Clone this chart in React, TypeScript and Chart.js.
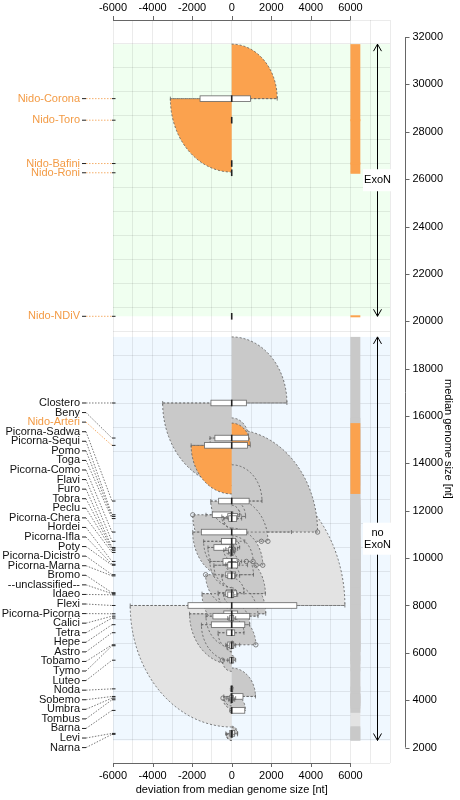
import React, { useEffect, useRef } from "react";
import { Chart, registerables } from "chart.js";

Chart.register(...registerables);

// virus families, top to bottom
const families = [
  "Nido-Corona", "Nido-Toro", "Nido-Bafini", "Nido-Roni", "Nido-NDiV",
  "Clostero", "Beny", "Nido-Arteri", "Picorna-Sadwa", "Picorna-Sequi",
  "Pomo", "Toga", "Picorna-Como", "Flavi", "Furo",
  "Tobra", "Peclu", "Picorna-Chera", "Hordei", "Picorna-Ifla",
  "Poty", "Picorna-Dicistro", "Picorna-Marna", "Bromo", "--unclassified--",
  "Idaeo", "Flexi", "Picorna-Picorna", "Calici", "Tetra",
  "Hepe", "Astro", "Tobamo", "Tymo", "Luteo",
  "Noda", "Sobemo", "Umbra", "Tombus", "Barna",
  "Levi", "Narna",
];
const medians = [
  29400, 28490, 26660, 26270, 20210,
  16550, 15070, 14760, 12410, 11830,
  11760, 11670, 11100, 10710, 10450,
  10390, 10330, 10240, 9860, 9740,
  9700, 9300, 9250, 8540, 8500,
  8450, 8000, 7650, 7550, 7470,
  7190, 6850, 6340, 6300, 5690,
  4480, 4160, 4090, 4020, 3570,
  2600, 2560,
];
// deviations from the median (box = quartiles)
const boxLow = [
  -1600, 0, 0, 0, 0,
  -1050, -850, -1370, -660, -980,
  -200, -150, -1535, -520, -900,
  -100, -150, -60, -440, -150,
  -200, -300, -200, -270, -300,
  -200, -2210, -400, -950, -100,
  -1030, -250, -200, -100, -100,
  -50, -50, -100, -50, -30,
  -100, -50,
];
const boxHigh = [
  950, 0, 0, 0, 0,
  740, 850, 800, 880, 60,
  300, 250, 760, 200, 100,
  100, 50, 60, 270, 190,
  300, 200, 150, 170, 250,
  100, 3290, 300, 910, 100,
  660, 150, 100, 100, 100,
  50, 570, 80, 50, 660,
  150, 50,
];
const whiskerLow = [
  -3100, 0, 0, 0, 0,
  -3490, -1100, -2050, -1060, -1300,
  -500, -400, -1970, -1420, -1200,
  -300, -400, -150, -1100, -300,
  -900, -900, -500, -690, -1500,
  -400, -5130, -2130, -1300, -200,
  -1530, -690, -300, -250, -200,
  -100, -400, -250, -150, -100,
  -300, -260,
];
const whiskerHigh = [
  2300, 0, 0, 0, 0,
  2790, 850, 940, 1530, 400,
  700, 500, 3020, 660, 400,
  300, 200, 150, 500, 400,
  800, 1100, 400, 620, 1700,
  300, 5720, 1720, 1330, 200,
  910, 620, 400, 200, 200,
  100, 1200, 200, 150, 700,
  300, 290,
];
const outliers: number[][] = [
  [], [], [], [], [],
  [], [], [], [], [-1970],
  [], [], [4340], [1500, 1830], [],
  [], [], [], [740, 1080], [],
  [1230, 1570], [-1320], [], [], [],
  [], [], [], [], [],
  [], [], [1220], [], [-470],
  [], [], [-440], [], [],
  [], [],
];
// colour class of each family
const kinds = [
  "exon", "exon", "exon", "exon", "exon",
  "plain", "plain", "exon", "plain", "plain",
  "plain", "plain", "plain", "plain", "plain",
  "plain", "plain", "plain", "plain", "plain",
  "plain", "plain", "plain", "plain", "plain",
  "plain", "light", "plain", "plain", "plain",
  "plain", "plain", "plain", "plain", "plain",
  "plain", "plain", "plain", "plain", "plain",
  "plain", "plain",
];
// section (0 = ExoN, 1 = no ExoN)
const sections = [
  0, 0, 0, 0, 0,
  1, 1, 1, 1, 1, 1, 1, 1, 1, 1, 1, 1, 1, 1, 1, 1, 1, 1, 1, 1,
  1, 1, 1, 1, 1, 1, 1, 1, 1, 1, 1, 1, 1, 1, 1, 1, 1,
];
const sectionLabels = [["ExoN"], ["no", "ExoN"]];
const sectionColors = ["#F0FFF0", "#F0F8FF"];

const xTicks = [-6000, -4000, -2000, 0, 2000, 4000, 6000];
const yTicks = [
  2000, 4000, 6000, 8000, 10000, 12000, 14000, 16000,
  18000, 20000, 22000, 24000, 26000, 28000, 30000, 32000,
];

const kindFill: Record<string, string> = {
  exon: "#FBA24E",
  plain: "#C9C9C9",
  light: "#E3E3E3",
};
const kindRank: Record<string, number> = { light: 0, plain: 1, exon: 2 };
const orangeText = "#F39B45";
const FONT = '11px "Liberation Sans", Arial, sans-serif';
const BAR_FROM = 6000;
const BAR_TO = 6500;
const ARROW_X = 7350;

const minDev = (i: number) => Math.min(0, whiskerLow[i], ...outliers[i]);
const maxDev = (i: number) => Math.max(0, whiskerHigh[i], ...outliers[i]);

const order = families
  .map((_, i) => i)
  .sort(
    (a, b) =>
      kindRank[kinds[a]] - kindRank[kinds[b]] ||
      maxDev(b) - minDev(b) - (maxDev(a) - minDev(a))
  );

const sectionRange = (s: number) => {
  const idx = families.map((_, i) => i).filter((i) => sections[i] === s);
  return {
    lo: Math.min(...idx.map((i) => medians[i] + minDev(i))),
    hi: Math.max(...idx.map((i) => medians[i] + maxDev(i))),
  };
};

const genomePlugin = {
  id: "genomePlot",
  beforeDraw(chart: any) {
    const { ctx, chartArea: a, scales } = chart;
    const y = scales.y;
    ctx.save();
    sectionLabels.forEach((_, s) => {
      const { lo, hi } = sectionRange(s);
      const top = y.getPixelForValue(hi);
      ctx.fillStyle = sectionColors[s];
      ctx.fillRect(a.left, top, a.right - a.left, y.getPixelForValue(lo) - top);
    });
    ctx.restore();
  },
  beforeDatasetsDraw(chart: any) {
    const { ctx, scales } = chart;
    const { x, y } = scales;
    const wedges: { i: number; r: number }[] = [];
    families.forEach((_, i) => {
      if (minDev(i) < 0) wedges.push({ i, r: minDev(i) });
      if (maxDev(i) > 0) wedges.push({ i, r: maxDev(i) });
    });
    wedges.sort(
      (a, b) =>
        kindRank[kinds[a.i]] - kindRank[kinds[b.i]] ||
        Math.abs(b.r) - Math.abs(a.r)
    );
    ctx.save();
    wedges.forEach(({ i, r }) => {
      const cx = x.getPixelForValue(0);
      const cy = y.getPixelForValue(medians[i]);
      const rx = Math.abs(x.getPixelForValue(r) - cx);
      const ry = Math.abs(y.getPixelForValue(medians[i] + r) - cy);
      const up = r > 0;
      const a0 = up ? -Math.PI / 2 : Math.PI / 2;
      const a1 = up ? 0 : Math.PI;
      ctx.beginPath();
      ctx.moveTo(cx, cy);
      ctx.ellipse(cx, cy, rx, ry, 0, a0, a1);
      ctx.closePath();
      ctx.fillStyle = kindFill[kinds[i]];
      ctx.fill();
      ctx.beginPath();
      ctx.ellipse(cx, cy, rx, ry, 0, a0, a1);
      ctx.lineTo(cx, cy);
      ctx.setLineDash([2, 2]);
      ctx.strokeStyle = "#555";
      ctx.lineWidth = 0.8;
      ctx.stroke();
      ctx.setLineDash([]);
    });
    ctx.restore();
  },
  afterDatasetsDraw(chart: any) {
    const { ctx, scales } = chart;
    const { x, y } = scales;
    ctx.save();
    // range bars on the right
    order.forEach((i) => {
      const top = y.getPixelForValue(medians[i] + maxDev(i));
      const bot = y.getPixelForValue(medians[i] + minDev(i));
      const h = Math.max(2, bot - top);
      const mid = (top + bot) / 2;
      ctx.fillStyle = kindFill[kinds[i]];
      ctx.fillRect(
        x.getPixelForValue(BAR_FROM),
        mid - h / 2,
        x.getPixelForValue(BAR_TO) - x.getPixelForValue(BAR_FROM),
        h
      );
    });
    // box plots
    families.forEach((_, i) => {
      const cy = y.getPixelForValue(medians[i]);
      const xl = x.getPixelForValue(boxLow[i]);
      const xh = x.getPixelForValue(boxHigh[i]);
      const wl = x.getPixelForValue(whiskerLow[i]);
      const wh = x.getPixelForValue(whiskerHigh[i]);
      ctx.strokeStyle = "#666";
      ctx.lineWidth = 0.8;
      ctx.setLineDash([2, 2]);
      ctx.beginPath();
      ctx.moveTo(wl, cy);
      ctx.lineTo(xl, cy);
      ctx.moveTo(xh, cy);
      ctx.lineTo(wh, cy);
      ctx.stroke();
      ctx.setLineDash([]);
      ctx.beginPath();
      if (wl < xl - 1) {
        ctx.moveTo(wl, cy - 2);
        ctx.lineTo(wl, cy + 2);
      }
      if (wh > xh + 1) {
        ctx.moveTo(wh, cy - 2);
        ctx.lineTo(wh, cy + 2);
      }
      ctx.stroke();
      if (xh > xl) {
        ctx.fillStyle = "#fff";
        ctx.fillRect(xl, cy - 2.8, xh - xl, 5.6);
        ctx.strokeRect(xl, cy - 2.8, xh - xl, 5.6);
      }
      const xm = x.getPixelForValue(0);
      ctx.strokeStyle = "#222";
      ctx.lineWidth = 1.6;
      ctx.beginPath();
      ctx.moveTo(xm, cy - 3.3);
      ctx.lineTo(xm, cy + 3.3);
      ctx.stroke();
    });
    ctx.restore();
  },
  afterDraw(chart: any) {
    const { ctx, chartArea: a, scales } = chart;
    const { x, y } = scales;
    ctx.save();
    ctx.font = FONT;
    ctx.fillStyle = "#000";
    ctx.strokeStyle = "#666";
    ctx.lineWidth = 1;

    // top and bottom x axes
    const x0 = x.getPixelForValue(xTicks[0]);
    const x1 = x.getPixelForValue(xTicks[xTicks.length - 1]);
    [a.top, a.bottom].forEach((ay, k) => {
      const dir = k === 0 ? -1 : 1;
      ctx.beginPath();
      ctx.moveTo(x0, ay + 0.5);
      ctx.lineTo(x1, ay + 0.5);
      xTicks.forEach((v) => {
        const px = Math.round(x.getPixelForValue(v)) + 0.5;
        ctx.moveTo(px, ay);
        ctx.lineTo(px, ay + dir * 4);
      });
      ctx.stroke();
      ctx.textAlign = "center";
      ctx.textBaseline = "middle";
      xTicks.forEach((v) => {
        ctx.fillText(String(v), x.getPixelForValue(v), ay + dir * 12.5);
      });
    });
    ctx.fillText(
      "deviation from median genome size [nt]",
      x.getPixelForValue(0),
      a.bottom + 27
    );

    // right y axis
    const ax = a.right + 15.5;
    ctx.beginPath();
    ctx.moveTo(ax, y.getPixelForValue(yTicks[0]));
    ctx.lineTo(ax, y.getPixelForValue(yTicks[yTicks.length - 1]));
    yTicks.forEach((v) => {
      const py = Math.round(y.getPixelForValue(v)) + 0.5;
      ctx.moveTo(ax, py);
      ctx.lineTo(ax + 4, py);
    });
    ctx.stroke();
    ctx.textAlign = "left";
    yTicks.forEach((v) => ctx.fillText(String(v), ax + 7, y.getPixelForValue(v)));
    ctx.save();
    ctx.translate(a.right + 58, 439);
    ctx.rotate(Math.PI / 2);
    ctx.textAlign = "center";
    ctx.fillText("median genome size [nt]", 0, 0);
    ctx.restore();

    // section arrows
    sectionLabels.forEach((lines, s) => {
      const { lo, hi } = sectionRange(s);
      const px = Math.round(x.getPixelForValue(ARROW_X)) + 0.5;
      const top = y.getPixelForValue(hi);
      const bot = y.getPixelForValue(lo);
      ctx.strokeStyle = "#000";
      ctx.lineWidth = 1;
      ctx.beginPath();
      ctx.moveTo(px, top);
      ctx.lineTo(px, bot);
      ctx.moveTo(px - 4, top + 7);
      ctx.lineTo(px, top);
      ctx.lineTo(px + 4, top + 7);
      ctx.moveTo(px - 4, bot - 7);
      ctx.lineTo(px, bot);
      ctx.lineTo(px + 4, bot - 7);
      ctx.stroke();
      const mid = (top + bot) / 2;
      const w = Math.max(...lines.map((t) => ctx.measureText(t).width)) + 2;
      const h = lines.length * 10 + 12;
      ctx.fillStyle = "#fff";
      ctx.fillRect(px - w / 2, mid - h / 2, w, h);
      ctx.fillStyle = "#000";
      ctx.textAlign = "center";
      lines.forEach((t, k) => {
        ctx.fillText(t, px, mid + (k - (lines.length - 1) / 2) * 12.4);
      });
    });

    // family labels with leader lines
    const first = sections.indexOf(1);
    const count = sections.filter((s) => s === 1).length;
    const labTop = y.getPixelForValue(medians[first]);
    const labBot = y.getPixelForValue(yTicks[0]);
    const step = (labBot - labTop) / (count - 1);
    const left = x.getPixelForValue(xTicks[0]);
    ctx.textAlign = "right";
    families.forEach((name, i) => {
      const my = y.getPixelForValue(medians[i]);
      const ly = sections[i] === 0 ? my : labTop + (i - first) * step;
      const orange = kinds[i] === "exon";
      ctx.fillStyle = orange ? orangeText : "#111";
      ctx.fillText(name, left - 33, ly);
      ctx.strokeStyle = orange ? orangeText : "#555";
      ctx.lineWidth = 0.8;
      ctx.setLineDash([1.5, 1.5]);
      ctx.beginPath();
      ctx.moveTo(left - 27, ly);
      ctx.lineTo(left - 1, my);
      ctx.stroke();
      ctx.setLineDash([]);
      ctx.strokeStyle = "#222";
      ctx.lineWidth = 1;
      ctx.beginPath();
      ctx.moveTo(left - 31, ly);
      ctx.lineTo(left - 27, ly);
      ctx.moveTo(left - 1, my);
      ctx.lineTo(left + 2.5, my);
      ctx.stroke();
    });
    ctx.restore();
  },
};

export default function App() {
  const canvasRef = useRef<HTMLCanvasElement>(null);

  useEffect(() => {
    document.body.style.margin = "0";
    const canvas = canvasRef.current;
    if (!canvas) return;
    const points = families.flatMap((_, i) =>
      outliers[i].map((v) => ({ x: v, y: medians[i] }))
    );
    const chart = new Chart(canvas, {
      type: "scatter",
      data: {
        datasets: [
          {
            data: points,
            pointRadius: 2.2,
            pointBorderColor: "#666",
            pointBackgroundColor: "rgba(0,0,0,0)",
            pointBorderWidth: 0.8,
          },
        ],
      },
      options: {
        animation: false,
        responsive: false,
        events: [],
        layout: { padding: { left: 113, right: 70, top: 20, bottom: 37 } },
        scales: {
          x: {
            type: "linear",
            min: -6000,
            max: 8000,
            ticks: { display: false, stepSize: 1000, includeBounds: false },
            grid: { color: "rgba(0,0,0,0.08)", drawTicks: false },
            border: { display: false },
          },
          y: {
            type: "linear",
            min: 1350,
            max: 32720,
            ticks: { display: false, stepSize: 1000, includeBounds: false },
            grid: { color: "rgba(0,0,0,0.08)", drawTicks: false },
            border: { display: false },
          },
        },
        plugins: {
          legend: { display: false },
          tooltip: { enabled: false },
        },
      },
      plugins: [genomePlugin],
    });
    return () => {
      chart.destroy();
    };
  }, []);

  return (
    <div style={{ width: 460, height: 800 }}>
      <canvas ref={canvasRef} width={460} height={800} style={{ display: "block" }} />
    </div>
  );
}
